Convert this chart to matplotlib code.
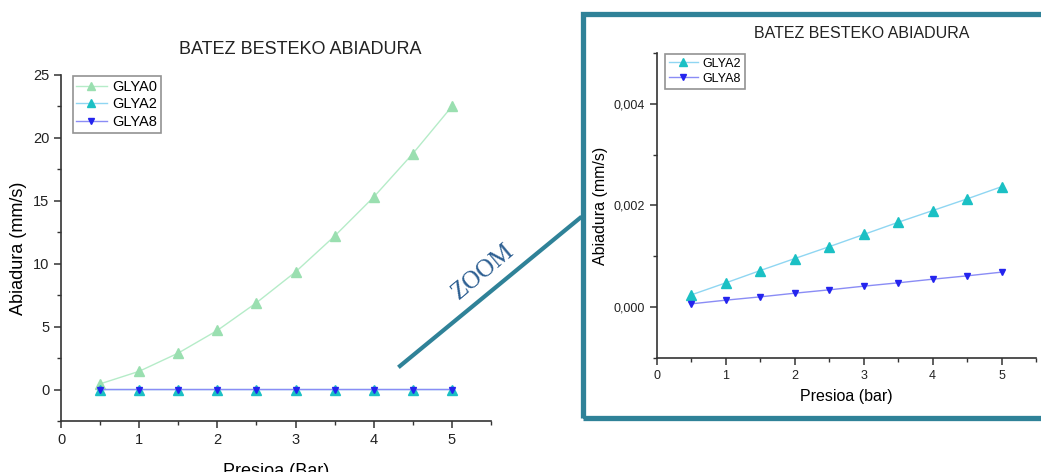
import matplotlib
matplotlib.use("Agg")
import matplotlib.pyplot as plt
from matplotlib.lines import Line2D
from matplotlib.patches import Rectangle
from matplotlib.ticker import MultipleLocator, FuncFormatter

# ── DATA ──────────────────────────────────────────────────────────────────────
presioa = [0.5, 1.0, 1.5, 2.0, 2.5, 3.0, 3.5, 4.0, 4.5, 5.0]
glya0 = [0.45, 1.45, 2.9, 4.7, 6.9, 9.35, 12.2, 15.3, 18.75, 22.5]
glya2 = [0.000243, 0.000479, 0.000721, 0.000957, 0.00119,
         0.00143, 0.00167, 0.0019, 0.00213, 0.00237]
glya8 = [0.0000656, 0.000138, 0.000203, 0.000275, 0.000341,
         0.000413, 0.000479, 0.00055, 0.000616, 0.000689]
title = "BATEZ BESTEKO ABIADURA"
# ─────────────────────────────────────────────────────────────────────────────

plt.rcParams["font.family"] = ["Liberation Sans", "DejaVu Sans"]

C0_LINE, C0_MARK = "#b5ecc8", "#9adfb0"
C2_LINE, C2_MARK = "#8fd6f2", "#1bc0c4"
C8_LINE, C8_MARK = "#8a8cf5", "#2424ee"
FRAME = "#2f8298"

W, H = 1041, 472
fig = plt.figure(figsize=(W / 100, H / 100), dpi=100)


def style_axes(ax, fs):
    for s in ("top", "right"):
        ax.spines[s].set_visible(False)
    for s in ("left", "bottom"):
        ax.spines[s].set_color("#333333")
        ax.spines[s].set_linewidth(1.2)
    ax.tick_params(which="major", direction="out", length=5, width=1.1,
                   labelsize=fs, colors="#333333", labelcolor="#222222")
    ax.tick_params(which="minor", direction="out", length=3, width=1.0,
                   colors="#333333")


def style_legend(leg):
    leg.get_frame().set_edgecolor("#777777")
    leg.get_frame().set_linewidth(1.2)


# ── LEFT: full range ─────────────────────────────────────────────────────────
ax1 = fig.add_axes([61 / W, 1 - 421 / H, 430 / W, 346 / H])
ax1.plot(presioa, glya0, color=C0_LINE, lw=1, marker="^", ms=7,
         mfc=C0_MARK, mec=C0_MARK, label="GLYA0")
ax1.plot(presioa, glya2, color=C2_LINE, lw=1, marker="^", ms=7,
         mfc=C2_MARK, mec=C2_MARK, label="GLYA2")
ax1.plot(presioa, glya8, color=C8_LINE, lw=1, marker="v", ms=5,
         mfc=C8_MARK, mec=C8_MARK, label="GLYA8")
ax1.set_xlim(0, 5.5)
ax1.set_ylim(-2.5, 25)
ax1.xaxis.set_major_locator(MultipleLocator(1))
ax1.xaxis.set_minor_locator(MultipleLocator(0.5))
ax1.yaxis.set_major_locator(MultipleLocator(5))
ax1.yaxis.set_minor_locator(MultipleLocator(2.5))
style_axes(ax1, 10.5)
ax1.set_xlabel("Presioa (Bar)", fontsize=13, labelpad=12)
ax1.set_ylabel("Abiadura (mm/s)", fontsize=13, labelpad=4)
fig.text(300 / W, 1 - 50 / H, title, fontsize=13, ha="center", va="center",
         color="#222222")
leg1 = ax1.legend(loc="upper left", bbox_to_anchor=(0.02, 1.005), fontsize=10.5,
                  frameon=True, fancybox=False, handlelength=2.1,
                  borderpad=0.25, labelspacing=0.25, handletextpad=0.4,
                  borderaxespad=0.2, markerscale=0.9)
style_legend(leg1)

# ── RIGHT: zoom ──────────────────────────────────────────────────────────────
ax2 = fig.add_axes([657 / W, 1 - 358 / H, 379 / W, 305 / H])
ax2.plot(presioa, glya2, color=C2_LINE, lw=1, marker="^", ms=7,
         mfc=C2_MARK, mec=C2_MARK, label="GLYA2")
ax2.plot(presioa, glya8, color=C8_LINE, lw=1, marker="v", ms=5,
         mfc=C8_MARK, mec=C8_MARK, label="GLYA8")
ax2.set_xlim(0, 5.5)
ax2.set_ylim(-0.001, 0.005)
ax2.xaxis.set_major_locator(MultipleLocator(1))
ax2.xaxis.set_minor_locator(MultipleLocator(0.5))
ax2.yaxis.set_major_locator(MultipleLocator(0.002))
ax2.yaxis.set_minor_locator(MultipleLocator(0.001))
ax2.yaxis.set_major_formatter(FuncFormatter(
    lambda v, p: f"{abs(v) if abs(v) < 1e-9 else v:.3f}".replace(".", ",")))
style_axes(ax2, 9)
ax2.set_xlabel("Presioa (bar)", fontsize=11.5, labelpad=5)
ax2.set_ylabel("Abiadura (mm/s)", fontsize=11.5, labelpad=4)
fig.text(862 / W, 1 - 33 / H, title, fontsize=11.5, ha="center", va="center",
         color="#222222")
leg2 = ax2.legend(loc="upper left", bbox_to_anchor=(0.015, 1.005), fontsize=9,
                  frameon=True, fancybox=False, handlelength=2.3,
                  borderpad=0.3, labelspacing=0.25, handletextpad=0.4,
                  borderaxespad=0.2, markerscale=0.9)
style_legend(leg2)

# ── ZOOM frame and connector ─────────────────────────────────────────────────
fig.patches.append(Rectangle((583 / W, 1 - 418 / H), 600 / W, 404 / H,
                             transform=fig.transFigure, fill=False,
                             edgecolor=FRAME, linewidth=3.8, zorder=5))
fig.lines.append(Line2D([400 / W, 580 / W], [1 - 366 / H, 1 - 218 / H],
                        transform=fig.transFigure, color=FRAME, linewidth=3))
fig.text(483 / W, 1 - 272 / H, "ZOOM", rotation=40, fontsize=18,
         family=["Liberation Serif", "DejaVu Serif"], color="#2d5f92",
         ha="center", va="center")

fig.savefig("out.png", dpi=100)
